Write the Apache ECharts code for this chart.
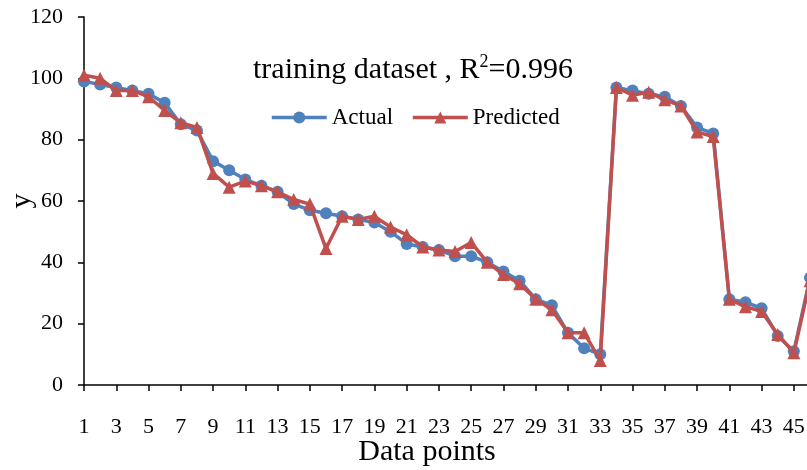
<!DOCTYPE html>
<html>
<head>
<meta charset="utf-8">
<script src="https://cdn.jsdelivr.net/npm/echarts@6/dist/echarts.min.js"></script>
<style>html,body{margin:0;padding:0;background:#fff}#c{width:807px;height:470px}</style>
</head>
<body>
<div id="c"></div>
<script>
const categories = Array.from({length: 46}, (_, i) => String(i + 1));
const actual = [99, 98, 97, 96, 95, 92, 85, 83, 73, 70, 67, 65, 63, 59, 57, 56, 55, 54, 53, 50,
  46, 45, 44, 42, 42, 40, 37, 34, 28, 26, 17, 12, 10, 97, 96, 95, 94, 91, 84, 82,
  28, 27, 25, 16, 11, 35];
const predicted = [101, 100, 96, 96, 94, 89.5, 85.5, 84, 69, 64.5, 66.5, 65, 63, 60.5, 59, 44.5, 55, 54, 55, 51.5,
  49, 45, 44, 43.5, 46.5, 40, 36, 33, 28, 24.5, 17, 17, 8, 97, 94.5, 95.5, 93, 91, 82.5, 81,
  28, 25.5, 24, 16.5, 10.5, 34];
const yTicks = {min: 0, max: 120, interval: 20};

const FONT = 'Liberation Serif';
const chart = echarts.init(document.getElementById('c'), null, {renderer: 'canvas'});
chart.setOption({
  animation: false,
  backgroundColor: '#fff',
  title: {
    text: '{a|training dataset , R}{s|2}{a|=0.996}',
    left: 253,
    top: 48,
    padding: [5, 0, 5, 0],
    textStyle: {
      rich: {
        a: {fontFamily: FONT, fontSize: 30, fontWeight: 'normal', color: '#000', verticalAlign: 'bottom', lineHeight: 32},
        s: {fontFamily: FONT, fontSize: 18, fontWeight: 'normal', color: '#000', verticalAlign: 'top', lineHeight: 32, padding: [0, 0, 12, 0]}
      }
    }
  },
  legend: {
    top: 101,
    left: 265,
    itemWidth: 55,
    itemHeight: 15,
    itemGap: 18,
    lineStyle: {width: 3.5},
    textStyle: {fontFamily: FONT, fontSize: 23, color: '#000'},
    data: ['Actual', 'Predicted']
  },
  grid: {left: 84, right: -3, top: 17, bottom: 85, containLabel: false, outerBoundsMode: 'none'},
  xAxis: {
    type: 'category',
    data: categories,
    boundaryGap: false,
    name: 'Data points',
    nameLocation: 'middle',
    nameGap: 52,
    nameMoveOverlap: false,
    nameTextStyle: {fontFamily: FONT, fontSize: 30, color: '#000', padding: [0, 40, 0, 0]},
    axisLine: {lineStyle: {color: '#000', width: 1.5}},
    axisTick: {show: true, interval: 1, length: 6, lineStyle: {color: '#000', width: 1.5}},
    axisLabel: {interval: 1, margin: 31, fontFamily: FONT, fontSize: 22, color: '#000'},
    splitLine: {show: false}
  },
  yAxis: {
    type: 'value',
    min: yTicks.min, max: yTicks.max, interval: yTicks.interval,
    name: 'y',
    nameLocation: 'middle',
    nameGap: 47,
    nameMoveOverlap: false,
    nameTextStyle: {fontFamily: FONT, fontSize: 30, color: '#000'},
    axisLine: {show: true, lineStyle: {color: '#000', width: 1.5}},
    axisTick: {show: true, length: 6, lineStyle: {color: '#000', width: 1.5}},
    axisLabel: {margin: 21, fontFamily: FONT, fontSize: 22, color: '#000'},
    splitLine: {show: false}
  },
  series: [
    {
      name: 'Actual',
      type: 'line',
      data: actual,
      symbol: 'circle',
      symbolSize: 12,
      showAllSymbol: true,
      lineStyle: {color: '#4F81BD', width: 3.5},
      itemStyle: {color: '#4F81BD'},
      z: 2
    },
    {
      name: 'Predicted',
      type: 'line',
      data: predicted,
      symbol: 'triangle',
      symbolSize: 13,
      showAllSymbol: true,
      lineStyle: {color: '#C0504D', width: 3.5},
      itemStyle: {color: '#C0504D'},
      z: 3
    }
  ]
});
</script>
</body>
</html>
